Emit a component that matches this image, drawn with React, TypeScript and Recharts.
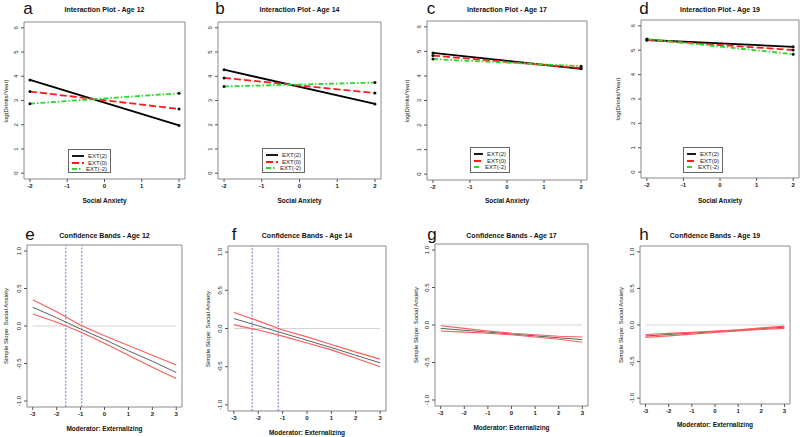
import React from "react";
import { LineChart, Line, XAxis, YAxis, ReferenceArea, ReferenceLine, Legend } from "recharts";

const FONT = '"Liberation Sans", Arial, sans-serif';

// interaction plots: log(Drinks/Year) at Social Anxiety -2 and 2
const socialAnxiety = [-2, 2];
const ext2Age12 = [3.85, 1.97];
const ext0Age12 = [3.37, 2.65];
const extNeg2Age12 = [2.87, 3.3];
const ext2Age14 = [4.27, 2.86];
const ext0Age14 = [3.93, 3.31];
const extNeg2Age14 = [3.58, 3.74];
const ext2Age17 = [4.94, 4.29];
const ext0Age17 = [4.83, 4.32];
const extNeg2Age17 = [4.69, 4.4];
const ext2Age19 = [5.42, 5.14];
const ext0Age19 = [5.42, 5.01];
const extNeg2Age19 = [5.46, 4.84];

// confidence bands: simple slope of social anxiety across the moderator
const moderator = [-3, -2, -1, 0, 1, 2, 3];
const slopeAge12 = [0.25, 0.11, -0.04, -0.18, -0.33, -0.47, -0.62];
const upperAge12 = [0.35, 0.19, 0.01, -0.13, -0.26, -0.39, -0.52];
const lowerAge12 = [0.16, 0.05, -0.08, -0.23, -0.39, -0.55, -0.7];
const slopeAge14 = [0.13, 0.035, -0.06, -0.155, -0.25, -0.35, -0.45];
const upperAge14 = [0.21, 0.1, -0.02, -0.11, -0.21, -0.31, -0.4];
const lowerAge14 = [0.05, -0.02, -0.1, -0.19, -0.28, -0.39, -0.5];
const slopeAge17 = [-0.045, -0.07, -0.095, -0.12, -0.145, -0.17, -0.195];
const upperAge17 = [-0.01, -0.045, -0.08, -0.11, -0.13, -0.15, -0.16];
const lowerAge17 = [-0.08, -0.095, -0.11, -0.13, -0.16, -0.19, -0.23];
const slopeAge19 = [-0.15, -0.13, -0.11, -0.09, -0.07, -0.05, -0.03];
const upperAge19 = [-0.13, -0.115, -0.1, -0.085, -0.065, -0.04, -0.015];
const lowerAge19 = [-0.17, -0.15, -0.125, -0.1, -0.08, -0.06, -0.045];
const regionAge12 = [-1.62, -0.95];
const regionAge14 = [-2.25, -1.18];

const interactionTicksX = [-2, -1, 0, 1, 2];
const interactionTicksY = [0, 1, 2, 3, 4, 5, 6];
const bandTicksX = [-3, -2, -1, 0, 1, 2, 3];
const bandTicksY = [-1, -0.5, 0, 0.5, 1];
const legendLabels = ["EXT(2)", "EXT(0)", "EXT(-2)"];

const lineStyles = [
  { key: "ext2", color: "#000000", dash: undefined as string | undefined },
  { key: "ext0", color: "#ff1a1a", dash: "7 3" },
  { key: "extNeg2", color: "#2bd92b", dash: "5 2 1.5 2" },
];

const PAD_L = 20, PAD_T = 5, PAD_R = 5, AX_H = 15;

function Txt({ x, y, size, bold, rotate, children }: any) {
  return (
    <div
      style={{
        position: "absolute", left: x, top: y, whiteSpace: "nowrap",
        transform: `translate(-50%, -50%)${rotate ? " rotate(-90deg)" : ""}`,
        fontFamily: FONT, fontSize: size, fontWeight: bold ? 700 : 400,
        color: "#111", lineHeight: 1,
      }}
    >
      {children}
    </div>
  );
}

function RotTick({ x, y, payload, digits }: any) {
  const v = Number(payload.value);
  const label = digits ? v.toFixed(digits) : String(v);
  return (
    <text x={x - 1} y={y} transform={`rotate(-90 ${x - 1} ${y})`} textAnchor="middle"
      fontSize={6} fontFamily={FONT} fill="#222">
      {label}
    </text>
  );
}

function LegendBox() {
  return (
    <div style={{ border: "1px solid #666", background: "#fff", width: "100%", height: "100%",
      boxSizing: "border-box", padding: "3px 3px", fontFamily: FONT, fontSize: 6, color: "#222" }}>
      {legendLabels.map((l, i) => (
        <div key={l} style={{ display: "flex", alignItems: "center", height: 6.5 }}>
          <svg width={13} height={4} style={{ marginRight: 4 }}>
            <line x1={0} y1={2} x2={13} y2={2} stroke={lineStyles[i].color} strokeWidth={1.8}
              strokeDasharray={lineStyles[i].dash} />
          </svg>
          <span>{l}</span>
        </div>
      ))}
    </div>
  );
}

function InteractionPanel({ letter, age, box, legend, ylabelX, showYLabel, values }: any) {
  const data = socialAnxiety.map((x, i) => ({
    x, ext2: values[0][i], ext0: values[1][i], extNeg2: values[2][i],
  }));
  const w = box.x1 - box.x0, h = box.y1 - box.y0;
  const left = box.x0 - PAD_L, top = box.y0 - PAD_T;
  const cx = (box.x0 + box.x1) / 2;
  return (
    <>
      <Txt x={letter.x} y={letter.y} size={17}>{letter.t}</Txt>
      <Txt x={cx} y={9} size={7} bold>{`Interaction Plot - Age ${age}`}</Txt>
      <Txt x={cx} y={201} size={6.5} bold>Social Anxiety</Txt>
      {showYLabel && <Txt x={ylabelX} y={(box.y0 + box.y1) / 2} size={6} rotate>log(Drinks/Year)</Txt>}
      <div style={{ position: "absolute", left, top }}>
        <LineChart width={w + PAD_L + PAD_R} height={h + PAD_T + AX_H} data={data}
          margin={{ top: PAD_T, right: PAD_R, left: 0, bottom: 0 }}>
          <XAxis type="number" dataKey="x" domain={[-2.16, 2.16]} ticks={interactionTicksX} interval={0}
            allowDataOverflow axisLine={false} tickSize={3} tickLine={{ stroke: "#555" }} height={AX_H}
            tick={{ fontSize: 6, fill: "#222", fontFamily: FONT, fontWeight: 700 }} />
          <YAxis type="number" domain={[-0.24, 6.24]} ticks={interactionTicksY} interval={0}
            allowDataOverflow axisLine={false} tickSize={3} tickLine={{ stroke: "#555" }} width={PAD_L}
            tick={<RotTick />} />
          <ReferenceArea x1={-2.16} x2={2.16} y1={-0.24} y2={6.24} fill="none" stroke="#8a8a8a" ifOverflow="visible" />
          {lineStyles.map((s) => (
            <Line key={s.key} dataKey={s.key} stroke={s.color} strokeWidth={1.8} strokeDasharray={s.dash}
              dot={{ r: 1.5, fill: "#111", stroke: "none" }} isAnimationActive={false} />
          ))}
          <Legend layout="vertical" align="center" verticalAlign="middle" content={() => <LegendBox />}
            wrapperStyle={{ left: legend.x0 - left, top: legend.y0 - top, width: legend.x1 - legend.x0,
              height: legend.y1 - legend.y0 }} />
        </LineChart>
      </div>
    </>
  );
}

function BandPanel({ letter, age, box, ylabelX, xlabelY, slope, upper, lower, region }: any) {
  const data = moderator.map((x, i) => ({ x, slope: slope[i], upper: upper[i], lower: lower[i] }));
  const w = box.x1 - box.x0, h = box.y1 - box.y0;
  const left = box.x0 - PAD_L, top = box.y0 - PAD_T;
  const cx = (box.x0 + box.x1) / 2;
  return (
    <>
      <Txt x={letter.x} y={letter.y} size={17}>{letter.t}</Txt>
      <Txt x={cx} y={235} size={7} bold>{`Confidence Bands - Age ${age}`}</Txt>
      <Txt x={cx} y={xlabelY} size={6.5} bold>Moderator: Externalizing</Txt>
      <Txt x={ylabelX} y={(box.y0 + box.y1) / 2} size={6} rotate>Simple Slope: Social Anxiety</Txt>
      <div style={{ position: "absolute", left, top }}>
        <LineChart width={w + PAD_L + PAD_R} height={h + PAD_T + AX_H} data={data}
          margin={{ top: PAD_T, right: PAD_R, left: 0, bottom: 0 }}>
          <XAxis type="number" dataKey="x" domain={[-3.24, 3.24]} ticks={bandTicksX} interval={0}
            allowDataOverflow axisLine={false} tickSize={3} tickLine={{ stroke: "#555" }} height={AX_H}
            tick={{ fontSize: 6, fill: "#222", fontFamily: FONT, fontWeight: 700 }} />
          <YAxis type="number" domain={[-1.08, 1.08]} ticks={bandTicksY} interval={0}
            allowDataOverflow axisLine={false} tickSize={3} tickLine={{ stroke: "#555" }} width={PAD_L}
            tick={<RotTick digits={1} />} />
          <ReferenceArea x1={-3.24} x2={3.24} y1={-1.08} y2={1.08} fill="none" stroke="#8a8a8a" ifOverflow="visible" />
          <ReferenceLine segment={[{ x: -3, y: 0 }, { x: 3, y: 0 }]} stroke="#d4d4d4" strokeWidth={1} />
          {region && region.map((r: number) => (
            <ReferenceLine key={r} x={r} stroke="#7070e0" strokeDasharray="2 1.5" strokeWidth={1} />
          ))}
          <Line dataKey="slope" stroke="#55655c" strokeWidth={1} dot={false} isAnimationActive={false} />
          <Line dataKey="upper" stroke="#ff5c5c" strokeWidth={1.2} dot={false} isAnimationActive={false} />
          <Line dataKey="lower" stroke="#ff5c5c" strokeWidth={1.2} dot={false} isAnimationActive={false} />
        </LineChart>
      </div>
    </>
  );
}

export default function App() {
  return (
    <div style={{ position: "absolute", left: 0, top: 0, width: 800, height: 437, background: "#fff", overflow: "hidden" }}>
      <InteractionPanel letter={{ t: "a", x: 28, y: 8 }} age={12} box={{ x0: 24, x1: 185, y0: 22, y1: 179 }}
        legend={{ x0: 68, x1: 111, y0: 149, y1: 173 }} ylabelX={6} showYLabel
        values={[ext2Age12, ext0Age12, extNeg2Age12]} />
      <InteractionPanel letter={{ t: "b", x: 220, y: 8 }} age={14} box={{ x0: 218, x1: 381, y0: 22, y1: 179 }}
        legend={{ x0: 262, x1: 305, y0: 148, y1: 173 }} ylabelX={200} showYLabel={false}
        values={[ext2Age14, ext0Age14, extNeg2Age14]} />
      <InteractionPanel letter={{ t: "c", x: 431, y: 8 }} age={17} box={{ x0: 427, x1: 587, y0: 21, y1: 180 }}
        legend={{ x0: 470, x1: 510, y0: 147, y1: 173 }} ylabelX={407} showYLabel
        values={[ext2Age17, ext0Age17, extNeg2Age17]} />
      <InteractionPanel letter={{ t: "d", x: 644, y: 8 }} age={19} box={{ x0: 641, x1: 799, y0: 20, y1: 178 }}
        legend={{ x0: 683, x1: 723, y0: 147, y1: 173 }} ylabelX={618} showYLabel
        values={[ext2Age19, ext0Age19, extNeg2Age19]} />

      <BandPanel letter={{ t: "e", x: 30, y: 234 }} age={12} box={{ x0: 27, x1: 182, y0: 245, y1: 407 }}
        ylabelX={6} xlabelY={429} slope={slopeAge12} upper={upperAge12} lower={lowerAge12} region={regionAge12} />
      <BandPanel letter={{ t: "f", x: 234, y: 234 }} age={14} box={{ x0: 228, x1: 386, y0: 246, y1: 411 }}
        ylabelX={208} xlabelY={433} slope={slopeAge14} upper={upperAge14} lower={lowerAge14} region={regionAge14} />
      <BandPanel letter={{ t: "g", x: 432, y: 234 }} age={17} box={{ x0: 435, x1: 588, y0: 244, y1: 406 }}
        ylabelX={416} xlabelY={428} slope={slopeAge17} upper={upperAge17} lower={lowerAge17} />
      <BandPanel letter={{ t: "h", x: 644, y: 234 }} age={19} box={{ x0: 640, x1: 790, y0: 246, y1: 404 }}
        ylabelX={621} xlabelY={425} slope={slopeAge19} upper={upperAge19} lower={lowerAge19} />
    </div>
  );
}
